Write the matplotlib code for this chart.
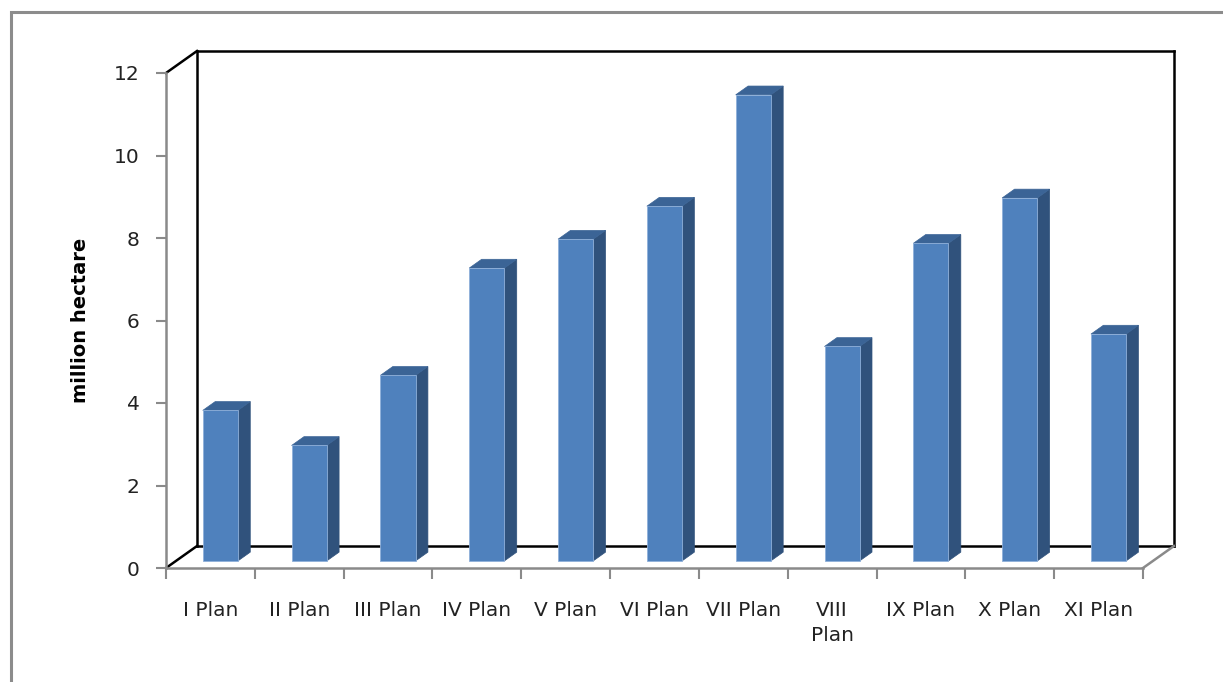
"""Irrigation potential created per Five Year Plan, drawn as an Excel-style 3-D column chart."""

import matplotlib

matplotlib.use("Agg")
import matplotlib.pyplot as plt
from matplotlib.patches import Polygon, Rectangle
from matplotlib.ticker import FixedLocator

plans = ["I Plan", "II Plan", "III Plan", "IV Plan", "V Plan", "VI Plan",
         "VII Plan", "VIII\nPlan", "IX Plan", "X Plan", "XI Plan"]
potential = [3.65, 2.8, 4.5, 7.1, 7.8, 8.6, 11.3, 5.2, 7.7, 8.8, 5.5]
y_ticks = [0, 2, 4, 6, 8, 10, 12]

W, H = 1223, 682
FRONT = "#4F81BD"
SIDE = "#30527C"
TOP = "#3B6496"

fig = plt.figure(figsize=(W / 100, H / 100), dpi=100)
fig.patch.set_facecolor("white")

# front floor / value axis box in pixels
left_px, right_px, zero_px, top_px = 166, 1143, 568, 73
ax = fig.add_axes([left_px / W, (H - zero_px) / H,
                   (right_px - left_px) / W, (zero_px - top_px) / H])
n = len(plans)
ax.set_xlim(0, n)
ax.set_ylim(0, 12)
ax.patch.set_alpha(0)

# depth of the 3-D box, in data units
px_x = n / (right_px - left_px)
px_y = 12 / (zero_px - top_px)
depth_x, depth_y = 31 * px_x, 22 * px_y

# walls
wall = dict(color="black", lw=1.8, zorder=1, clip_on=False)
ax.plot([depth_x, depth_x], [depth_y, 12 + depth_y], **wall)
ax.plot([n + depth_x, n + depth_x], [depth_y, 12 + depth_y], **wall)
ax.plot([depth_x, n + depth_x], [12 + depth_y, 12 + depth_y], **wall)
ax.plot([depth_x, n + depth_x], [depth_y, depth_y], **wall)
ax.plot([0, depth_x], [12, 12 + depth_y], **wall)
ax.plot([0, depth_x], [0, depth_y], **wall)
ax.plot([n, n + depth_x], [0, depth_y], color="#8a8a8a", lw=1.8,
        zorder=1, clip_on=False)

# bars
front_d, back_d = 0.32, 0.72
width = 0.395
bx = [i + 0.5 + depth_x * front_d for i in range(n)]
base = depth_y * front_d
ax.bar(bx, potential, width=width, bottom=base, color=FRONT,
       edgecolor="#8FB0DA", lw=0.6, zorder=3)
ddx = depth_x * (back_d - front_d)
ddy = depth_y * (back_d - front_d)
for x, v in zip(bx, potential):
    xl, xr = x - width / 2, x + width / 2
    ax.add_patch(Polygon([(xr, base), (xr + ddx, base + ddy),
                          (xr + ddx, base + v + ddy), (xr, base + v)],
                         closed=True, facecolor=SIDE, edgecolor=SIDE,
                         lw=0.5, zorder=2))
    ax.add_patch(Polygon([(xl, base + v), (xl + ddx, base + v + ddy),
                          (xr + ddx, base + v + ddy), (xr, base + v)],
                         closed=True, facecolor=TOP, edgecolor=TOP,
                         lw=0.5, zorder=2))

# axes
for side in ["top", "right"]:
    ax.spines[side].set_visible(False)
for side in ["left", "bottom"]:
    ax.spines[side].set_color("#8a8a8a")
    ax.spines[side].set_linewidth(1.8)
ax.set_yticks(y_ticks)
ax.tick_params(axis="y", direction="out", length=7, width=1.5,
               color="#8a8a8a", labelsize=14.5, labelcolor="#222222", pad=12)
ax.set_xticks([i + 0.5 for i in range(n)])
ax.set_xticklabels(plans, fontsize=14.5, color="#222222", linespacing=1.35,
                   va="top")
ax.tick_params(axis="x", length=0, pad=24)
ax.xaxis.set_minor_locator(FixedLocator(range(n + 1)))
ax.tick_params(axis="x", which="minor", direction="out", length=8,
               width=1.5, color="#8a8a8a")
ax.set_ylabel("million hectare", fontsize=14, fontweight="bold", labelpad=17)

# outer chart frame (top and left edges visible)
fig.add_artist(Rectangle((11 / W, -0.2), 1.2, (H - 12) / H + 0.2,
                         transform=fig.transFigure, fill=False,
                         edgecolor="#8c8c8c", lw=2.2))

fig.savefig("out.png", dpi=100, facecolor="white")
